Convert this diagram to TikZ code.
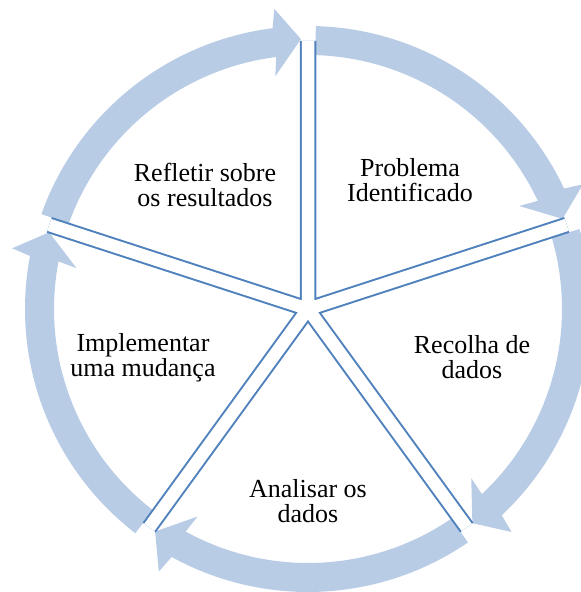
\documentclass[tikz,border=0pt]{standalone}
\usepackage{fontspec}
\setmainfont{Liberation Serif}
\definecolor{ringblue}{RGB}{184,204,230}
\definecolor{spokeblue}{RGB}{79,129,189}

\begin{document}
\begin{tikzpicture}[x=0.5pt,y=0.5pt,
    ring/.style={fill=ringblue},
    spoke/.style={draw=spokeblue, line width=8.25pt},
    spokegap/.style={draw=white, line width=6.25pt},
    stage/.style={font=\fontsize{13}{12.3}\selectfont, align=center}]
    \useasboundingbox (-308,-283) rectangle (273,309);
    \clip (-308,-283) rectangle (273,309);

    \fill[ring] (88.4:283) arc[start angle=88.4, end angle=25.2, radius=283] -- (24.4:302) -- (19.5:270) -- (26:235)
      -- (25.2:254) arc[start angle=25.2, end angle=88.4, radius=254] -- cycle;
    \fill[ring] (16.4:283) arc[start angle=16.4, end angle=-46.8, radius=283] -- (-47.6:302) -- (-52.5:270) -- (-46:235)
      -- (-46.8:254) arc[start angle=-46.8, end angle=16.4, radius=254] -- cycle;
    \fill[ring] (-55.6:283) arc[start angle=-55.6, end angle=-118.8, radius=283] -- (-119.6:302) -- (-124.5:270) -- (-118:235)
      -- (-118.8:254) arc[start angle=-118.8, end angle=-55.6, radius=254] -- cycle;
    \fill[ring] (-127.6:283) arc[start angle=-127.6, end angle=-190.8, radius=283] -- (-191.6:302) -- (-196.5:270) -- (-190:235)
      -- (-190.8:254) arc[start angle=-190.8, end angle=-127.6, radius=254] -- cycle;
    \fill[ring] (160.4:283) arc[start angle=160.4, end angle=97.2, radius=283] -- (96.4:302) -- (91.5:270) -- (98:235)
      -- (97.2:254) arc[start angle=97.2, end angle=160.4, radius=254] -- cycle;

    \coordinate (c) at (0,0);
    \coordinate (s1) at (90:268);
    \coordinate (s2) at (18:272);
    \coordinate (s3) at (-54:270);
    \coordinate (s4) at (-126:270);
    \coordinate (s5) at (162:272);
    \draw[spoke] (c) -- (s1) (c) -- (s2) (c) -- (s3) (c) -- (s4) (c) -- (s5);
    \draw[spokegap] (c) -- (s1) (c) -- (s2) (c) -- (s3) (c) -- (s4) (c) -- (s5);

    \node[stage] (refletir) at (-103,124) {Refletir sobre\\os resultados};
    \node[stage] (problema) at (102,129) {Problema\\Identificado};
    \node[stage] (recolha) at (164,-48) {Recolha de\\dados};
    \node[stage] (analisar) at (0,-192) {Analisar os\\dados};
    \node[stage] (implementar) at (-165,-49) {Implementar\\uma mudança};
\end{tikzpicture}
\end{document}
